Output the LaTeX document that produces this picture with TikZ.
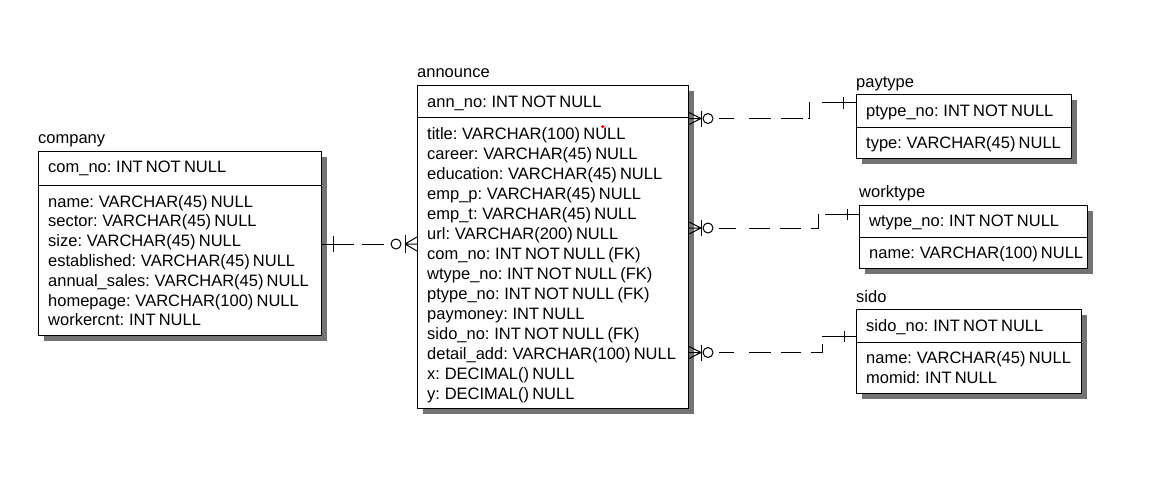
\documentclass[tikz,border=0pt]{standalone}
\usepackage{fontspec}
\setmainfont[WordSpace=0.7]{Liberation Sans}
\usetikzlibrary{shadows}
\begin{document}
\begin{tikzpicture}[x=1pt,y=-1pt,
  tbl/.style={draw, line width=1pt, fill=white, rectangle, inner sep=0pt, anchor=north west,
    general shadow={fill=black!55, shadow xshift=5pt, shadow yshift=-5pt}},
  txt/.style={inner sep=0pt, anchor=base west, font=\fontsize{16.5}{20}\selectfont},
  rel/.style={line width=1pt},
  circ/.style={circle, draw, line width=1pt, minimum size=10pt, inner sep=0pt},
  ]
\useasboundingbox (0,0) rectangle (1153,496);

% ---------- tables ----------
\node[tbl, minimum width=283pt, minimum height=184pt] (company) at (38,151) {};
\node[tbl, minimum width=271pt, minimum height=323pt] (announce) at (417,85) {};
\node[tbl, minimum width=215pt, minimum height=64pt] (paytype) at (856,94) {};
\node[tbl, minimum width=228pt, minimum height=63pt] (worktype) at (859,205) {};
\node[tbl, minimum width=225pt, minimum height=84pt] (sido) at (856,309) {};

% dividers
\draw[rel] (company.west |- 0,185) -- (company.east |- 0,185);
\draw[rel] (announce.west |- 0,117) -- (announce.east |- 0,117);
\draw[rel] (paytype.west |- 0,127) -- (paytype.east |- 0,127);
\draw[rel] (worktype.west |- 0,237) -- (worktype.east |- 0,237);
\draw[rel] (sido.west |- 0,342) -- (sido.east |- 0,342);

% ---------- company text ----------
\node[txt] (company-t) at (38,143.5) {company};
\node[txt] (company-k) at (48,172.5) {com\_no: INT NOT NULL};
\foreach \s [count=\i from 0] in {name: VARCHAR(45) NULL, sector: VARCHAR(45) NULL,
  size: VARCHAR(45) NULL, established: VARCHAR(45) NULL, annual\_sales: VARCHAR(45) NULL,
  homepage: VARCHAR(100) NULL, workercnt: INT NULL}
  \node[txt] (company-\i) at (48,207+19.8*\i) {\s};

% ---------- announce text ----------
\node[txt] (announce-t) at (417,77) {announce};
\node[txt] (announce-k) at (427,107) {ann\_no: INT NOT NULL};
\foreach \s [count=\i from 0] in {title: VARCHAR(100) NULL, career: VARCHAR(45) NULL,
  education: VARCHAR(45) NULL, emp\_p: VARCHAR(45) NULL, emp\_t: VARCHAR(45) NULL,
  url: VARCHAR(200) NULL, com\_no: INT NOT NULL (FK), wtype\_no: INT NOT NULL (FK),
  ptype\_no: INT NOT NULL (FK), paymoney: INT NULL, sido\_no: INT NOT NULL (FK),
  detail\_add: VARCHAR(100) NULL, x: DECIMAL() NULL, y: DECIMAL() NULL}
  \node[txt] (announce-\i) at (427,139+20*\i) {\s};
\node[circle, fill=red, inner sep=0pt, minimum size=3.5pt] (dot) at (602.7,126.7) {};

% ---------- paytype text ----------
\node[txt] (paytype-t) at (856,87) {paytype};
\node[txt] (paytype-k) at (866,116) {ptype\_no: INT NOT NULL};
\node[txt] (paytype-0) at (866,148.5) {type: VARCHAR(45) NULL};

% ---------- worktype text ----------
\node[txt] (worktype-t) at (859,197.5) {worktype};
\node[txt] (worktype-k) at (869,226.7) {wtype\_no: INT NOT NULL};
\node[txt] (worktype-0) at (869,258.3) {name: VARCHAR(100) NULL};

% ---------- sido text ----------
\node[txt] (sido-t) at (856,302) {sido};
\node[txt] (sido-k) at (866,331) {sido\_no: INT NOT NULL};
\node[txt] (sido-0) at (866,363.5) {name: VARCHAR(45) NULL};
\node[txt] (sido-1) at (866,383.5) {momid: INT NULL};

% ---------- company -- announce ----------
\node[circ] (c0) at (396,244) {};
\coordinate (cf0) at (405,244);
\coordinate (e0) at (company.east |- 0,244);
\coordinate (s0) at (354,244);
\draw[rel] (cf0) -- (announce.west |- 0,237)
           (cf0) -- (announce.west |- 0,244)
           (cf0) -- (announce.west |- 0,251);
\draw[rel] (405,235) -- (405,253);
\draw[rel] (e0) -- (s0);
\draw[rel] (333,236) -- (333,252);
\draw[rel, dash pattern=on 0pt off 6.7pt on 21.6pt off 300pt] (c0.west) -- (e0);

% ---------- announce -- paytype ----------
\node[circ] (c1) at (708,118.5) {};
\coordinate (cf1) at (701,118.5);
\draw[rel] (cf1) -- (announce.east |- 0,112.5)
           (cf1) -- (announce.east |- 0,118.5)
           (cf1) -- (announce.east |- 0,124.5);
\draw[rel] (701.5,110.5) -- (701.5,126.5);
\coordinate (k1) at (809,118.5);
\coordinate (m1) at (809,102.5);
\coordinate (s1) at (822,102.5);
\draw[rel, dash pattern=on 0pt off 5pt on 15pt off 15pt on 22pt off 10pt on 22pt off 5pt on 18pt off 300pt]
  (c1.east) -- (k1) -- (m1) -- (s1);
\draw[rel] (s1) -- (paytype.west |- s1);
\draw[rel] (843,96.5) -- (843,108.5);

% ---------- announce -- worktype ----------
\node[circ] (c2) at (708,228) {};
\coordinate (cf2) at (701,228);
\draw[rel] (cf2) -- (announce.east |- 0,222)
           (cf2) -- (announce.east |- 0,228)
           (cf2) -- (announce.east |- 0,234);
\draw[rel] (701.5,220) -- (701.5,236);
\coordinate (k2) at (818,228);
\coordinate (m2) at (818,214);
\coordinate (s2) at (825,214);
\draw[rel, dash pattern=on 0pt off 5pt on 17pt off 13pt on 21pt off 10pt on 21pt off 10pt on 22pt off 300pt]
  (c2.east) -- (k2) -- (m2) -- (s2);
\draw[rel] (s2) -- (worktype.west |- s2);
\draw[rel] (847,208.5) -- (847,219.5);

% ---------- announce -- sido ----------
\node[circ] (c3) at (708,352.5) {};
\coordinate (cf3) at (701,352.5);
\draw[rel] (cf3) -- (announce.east |- 0,346.5)
           (cf3) -- (announce.east |- 0,352.5)
           (cf3) -- (announce.east |- 0,358.5);
\draw[rel] (701.5,344.5) -- (701.5,360.5);
\coordinate (k3) at (822,352.5);
\coordinate (m3) at (822,336.5);
\coordinate (s3) at (822,336.5);
\draw[rel, dash pattern=on 0pt off 5pt on 15pt off 15pt on 22pt off 10pt on 20pt off 10pt on 20pt off 300pt]
  (c3.east) -- (k3) -- (m3);
\draw[rel] (s3) -- (sido.west |- s3);
\draw[rel] (844,331) -- (844,342);
\end{tikzpicture}
\end{document}
